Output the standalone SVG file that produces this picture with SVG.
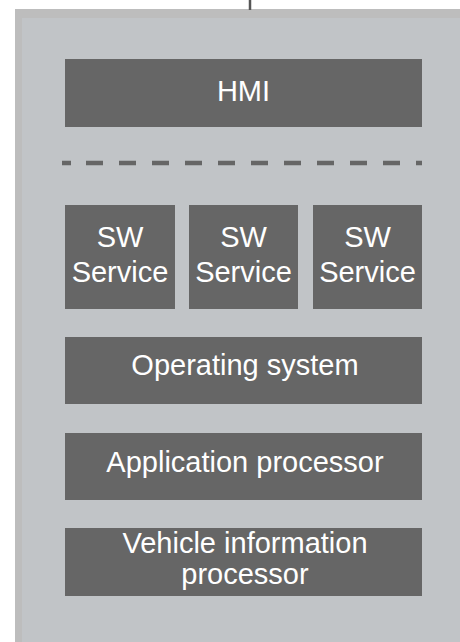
<svg xmlns="http://www.w3.org/2000/svg" width="460" height="642" viewBox="0 0 460 642">
<style>
.blk{fill:#666666;}
.t{font-family:"Liberation Sans",Arial,sans-serif;font-size:29px;fill:#ffffff;text-anchor:middle;}
</style>
<rect x="0" y="0" width="460" height="642" fill="#ffffff"/>
<g id="container">
<rect x="15" y="9" width="445" height="633" fill="#bdbdbd"/>
<rect x="22" y="18" width="438" height="624" fill="#c1c4c7"/>
</g>
<g id="connectors">
<line x1="250" y1="0" x2="250" y2="10" stroke="#555555" stroke-width="2.5"/>
<line x1="62" y1="163" x2="422" y2="163" stroke="#666666" stroke-width="4.5" stroke-dasharray="9 15 17 16 17 16 17 16 17 16 17 16 17 16 17 16 17 16 17 16 17 16 17 16"/>
</g>
<g id="hmi">
<rect class="blk" x="65" y="59" width="357" height="68"/>
<text class="t" x="243.5" y="101">HMI</text>
</g>
<g id="sw1">
<rect class="blk" x="65" y="205" width="110" height="104"/>
<text class="t" x="120" y="247">SW</text>
<text class="t" x="120" y="282">Service</text>
</g>
<g id="sw2">
<rect class="blk" x="189" y="205" width="109" height="104"/>
<text class="t" x="243.5" y="247">SW</text>
<text class="t" x="243.5" y="282">Service</text>
</g>
<g id="sw3">
<rect class="blk" x="313" y="205" width="109" height="104"/>
<text class="t" x="367.5" y="247">SW</text>
<text class="t" x="367.5" y="282">Service</text>
</g>
<g id="os">
<rect class="blk" x="65" y="337" width="357" height="67"/>
<text class="t" x="245" y="375">Operating system</text>
</g>
<g id="ap">
<rect class="blk" x="65" y="433" width="357" height="67"/>
<text class="t" x="245" y="472">Application processor</text>
</g>
<g id="vip">
<rect class="blk" x="65" y="528" width="357" height="68"/>
<text class="t" x="245" y="553">Vehicle information</text>
<text class="t" x="245" y="584">processor</text>
</g>
</svg>
